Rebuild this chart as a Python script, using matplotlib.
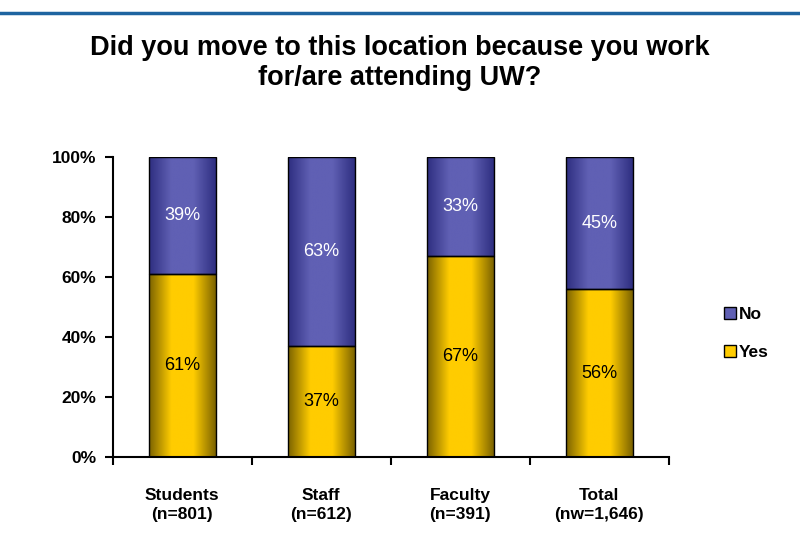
import numpy as np
import matplotlib.pyplot as plt
from matplotlib.colors import LinearSegmentedColormap
from matplotlib.patches import Patch
from matplotlib.ticker import PercentFormatter

plt.rcParams['font.family'] = ['Liberation Sans', 'DejaVu Sans']

groups = ["Students\n(n=801)", "Staff\n(n=612)", "Faculty\n(n=391)", "Total\n(nw=1,646)"]
yes = [61, 37, 67, 56]
no = [39, 63, 33, 45]

YES_COLOR = "#FFCC00"
NO_COLOR = "#6060B4"


def gradient_fill(ax, bars, light, dark):
    # shade each bar darker at the left/right edges like the office chart
    cmap = LinearSegmentedColormap.from_list("g", [dark, light, light, dark])
    grad = np.linspace(0, 1, 256).reshape(1, -1)
    for b in bars:
        x0, y0 = b.get_x(), b.get_y()
        w, h = b.get_width(), b.get_height()
        im = ax.imshow(grad, cmap=cmap, extent=[x0, x0 + w, y0, y0 + h],
                       aspect="auto", zorder=b.get_zorder() - 0.5)
        im.set_clip_path(b)
        b.set_facecolor("none")


fig = plt.figure(figsize=(8, 5.59), dpi=100)
ax = fig.add_axes([0.141, 0.182, 0.695, 0.537])

x = np.arange(len(groups))
width = 0.48
# rounded shares can add to 101, cap the stack at 100%
no_h = [min(n, 100 - y) for y, n in zip(yes, no)]
yes_bars = ax.bar(x, yes, width, edgecolor="black", linewidth=1, zorder=3)
no_bars = ax.bar(x, no_h, width, bottom=yes, edgecolor="black", linewidth=1, zorder=3)
gradient_fill(ax, yes_bars, YES_COLOR, "#7a6200")
gradient_fill(ax, no_bars, NO_COLOR, "#2e2e80")

for i in range(len(groups)):
    ax.text(x[i], yes[i] / 2, f"{yes[i]}%", ha="center", va="center",
            fontsize=13, color="black", zorder=5)
    ax.text(x[i], yes[i] + no_h[i] / 2, f"{no[i]}%", ha="center", va="center",
            fontsize=13, color="white", zorder=5)

ax.set_xlim(-0.5, len(groups) - 0.5)
ax.set_ylim(0, 100)
ax.set_yticks(range(0, 101, 20))
ax.yaxis.set_major_formatter(PercentFormatter(decimals=0))
ax.set_xticks(x)
ax.set_xticks(np.arange(len(groups) + 1) - 0.5, minor=True)
ax.set_xticklabels(groups, fontsize=12.5, fontweight="bold", linespacing=1.35)
ax.tick_params(axis="x", which="major", length=0, pad=22)
ax.tick_params(axis="x", which="minor", direction="out", length=6, width=1.5)
ax.tick_params(axis="y", direction="out", length=6, width=1.5, labelsize=12.5, pad=6)
for lab in ax.get_yticklabels():
    lab.set_fontweight("bold")
ax.spines[["top", "right"]].set_visible(False)
ax.spines["left"].set_linewidth(1.5)
ax.spines["bottom"].set_linewidth(1.5)
ax.set_facecolor("white")

handles = [Patch(facecolor=NO_COLOR, edgecolor="black"),
           Patch(facecolor=YES_COLOR, edgecolor="black")]
fig.legend(handles, ["No", "Yes"], loc="center left", bbox_to_anchor=(0.885, 0.403),
           frameon=False, handlelength=0.7, handleheight=0.7, handletextpad=0.2,
           labelspacing=1.3, prop={"weight": "bold", "size": 12.5})

fig.text(0.5, 0.888, "Did you move to this location because you work\nfor/are attending UW?",
         ha="center", va="center", fontsize=19.5, fontweight="bold", linespacing=1.2)

fig.add_artist(plt.Line2D([0, 1], [0.977, 0.977], color="#1E64A0", linewidth=2.5))

fig.savefig("out.png", dpi=100)
